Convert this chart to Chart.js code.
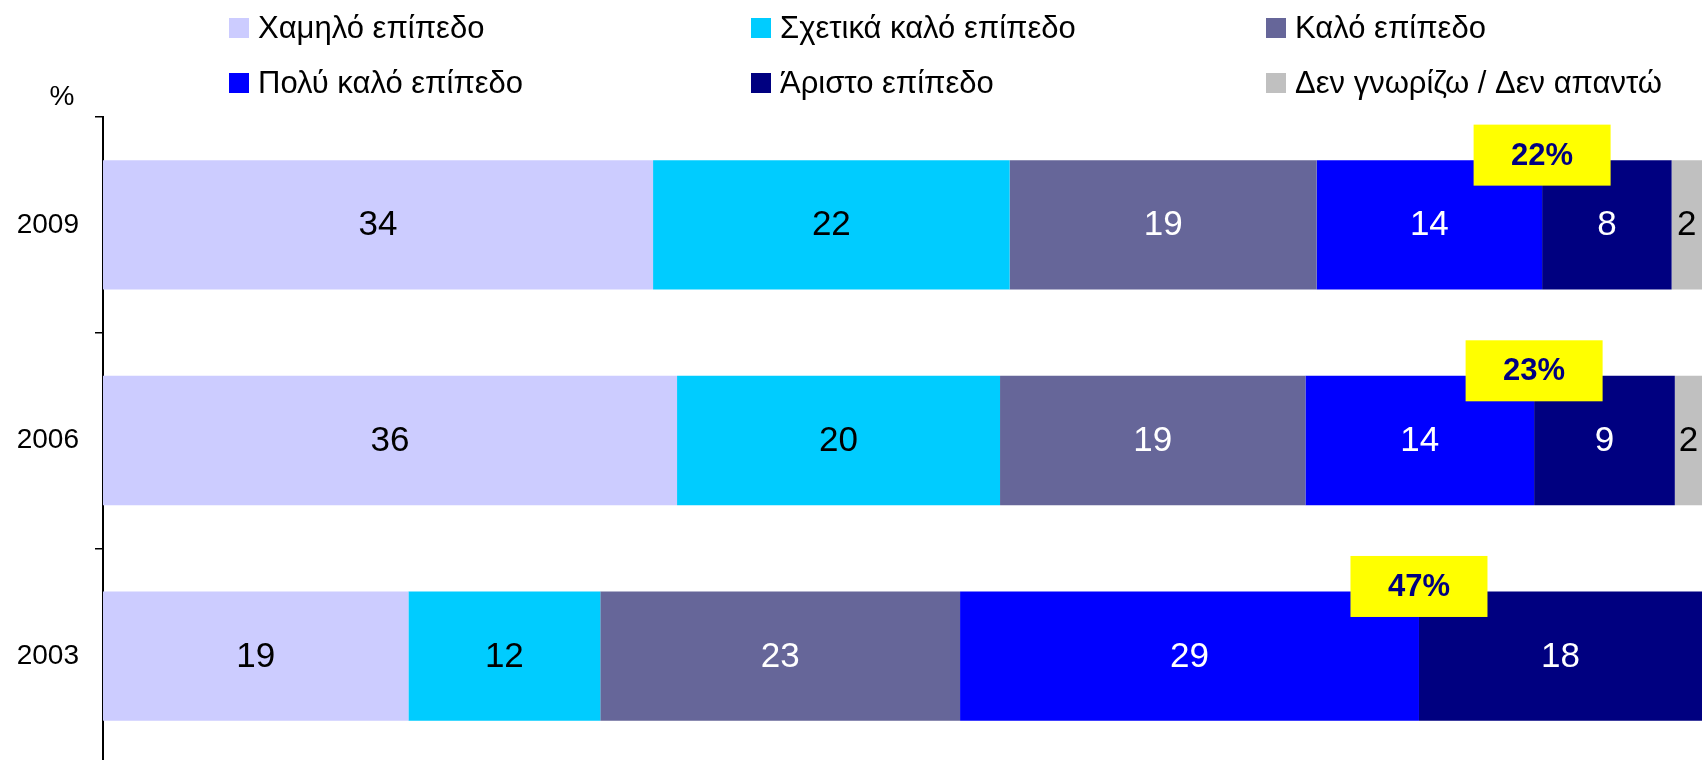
<!DOCTYPE html>
<html>
<head>
<meta charset="utf-8">
<script src="https://cdn.jsdelivr.net/npm/chart.js@4/dist/chart.umd.min.js"></script>
<style>
  html, body { margin: 0; padding: 0; background: #fff; overflow: hidden; }
  #wrap { position: relative; width: 1702px; height: 764px; }
</style>
</head>
<body>
<div id="wrap"><canvas id="levelChart"></canvas></div>
<script>
// δεδομένα (ανάγνωση από το γράφημα)
const years = ['2009', '2006', '2003'];
const seriesNames = ['Χαμηλό επίπεδο', 'Σχετικά καλό επίπεδο', 'Καλό επίπεδο',
                     'Πολύ καλό επίπεδο', 'Άριστο επίπεδο', 'Δεν γνωρίζω / Δεν απαντώ'];
const lowLevel = [34.4, 35.9, 19.1];
const fairlyGood = [22.3, 20.2, 12.0];
const goodLevel = [19.2, 19.1, 22.5];
const veryGood = [14.1, 14.3, 28.7];
const excellent = [8.1, 8.8, 17.7];
const dontKnow = [1.9, 1.7, 0];
const topShare = ['22%', '23%', '47%']; // Πολύ καλό + Άριστο

const colors = ['#CCCCFF', '#00CCFF', '#666699', '#0000FF', '#000080', '#C0C0C0'];
const labelColors = ['#000', '#000', '#fff', '#fff', '#fff', '#000'];
const FONT = "'Liberation Sans', Arial, Helvetica, sans-serif";

const allSeries = [lowLevel, fairlyGood, goodLevel, veryGood, excellent, dontKnow];

// τιμές μέσα στις μπάρες
const valueLabels = {
    id: 'valueLabels',
    afterDatasetsDraw(chart) {
        const ctx = chart.ctx;
        ctx.save();
        ctx.font = '35px ' + FONT;
        ctx.textAlign = 'center';
        ctx.textBaseline = 'middle';
        chart.data.datasets.forEach((ds, di) => {
            chart.getDatasetMeta(di).data.forEach((el, i) => {
                const v = ds.data[i];
                if (!v) return;
                ctx.fillStyle = labelColors[di];
                ctx.fillText(String(Math.round(v)), (el.x + el.base) / 2, el.y + 1);
            });
        });

        // κίτρινα κουτιά με το ποσοστό Πολύ καλό + Άριστο
        const meta = chart.getDatasetMeta(3);
        meta.data.forEach((el, i) => {
            const top = el.y - el.height / 2;
            const w = 137, h = 61;
            const cx = el.x, cy = top - 5;
            ctx.fillStyle = '#FFFF00';
            ctx.fillRect(cx - w / 2, cy - h / 2, w, h);
            ctx.fillStyle = '#000080';
            ctx.font = 'bold 31px ' + FONT;
            ctx.fillText(topShare[i], cx, cy + 1);
        });
        ctx.restore();
    }
};

// υπόμνημα σε 2 σειρές x 3 στήλες + σύμβολο %
const gridLegend = {
    id: 'gridLegend',
    afterDraw(chart) {
        const ctx = chart.ctx;
        const colX = [229, 751, 1266];
        const rowY = [28, 83];
        ctx.save();
        ctx.font = '31px ' + FONT;
        ctx.textAlign = 'left';
        ctx.textBaseline = 'middle';
        seriesNames.forEach((name, k) => {
            const x = colX[k % 3], y = rowY[Math.floor(k / 3)];
            ctx.fillStyle = colors[k];
            ctx.fillRect(x, y - 10, 20, 20);
            ctx.fillStyle = '#000';
            ctx.fillText(name, x + 29, y + 1);
        });
        ctx.font = '28px ' + FONT;
        ctx.textAlign = 'center';
        ctx.fillText('%', 62, 97);
        ctx.restore();
    }
};

const ctx = document.getElementById('levelChart').getContext('2d');
new Chart(ctx, {
    type: 'bar',
    data: {
        labels: years,
        datasets: allSeries.map((vals, k) => ({
            label: seriesNames[k],
            data: vals,
            backgroundColor: colors[k],
            borderWidth: 0,
            barPercentage: 0.6,
            categoryPercentage: 1.0
        }))
    },
    options: {
        indexAxis: 'y',
        responsive: true,
        maintainAspectRatio: false,
        animation: false,
        layout: { padding: { top: 117, left: 0, right: 0, bottom: 0 } },
        plugins: {
            legend: { display: false },
            tooltip: { enabled: false }
        },
        scales: {
            x: {
                stacked: true,
                min: 0,
                max: 100,
                display: false
            },
            y: {
                stacked: true,
                offset: true,
                grid: {
                    offset: true,
                    drawOnChartArea: false,
                    tickLength: 8,
                    color: '#000',
                    lineWidth: 1.5
                },
                border: { display: true, color: '#000', width: 2 },
                ticks: {
                    color: '#000',
                    font: { size: 28, family: FONT },
                    padding: 16
                },
                afterFit(scale) {
                    scale.width = 103;
                    scale.paddingTop = 0;
                    scale.paddingBottom = 0;
                }
            }
        }
    },
    plugins: [valueLabels, gridLegend]
});
</script>
</body>
</html>
